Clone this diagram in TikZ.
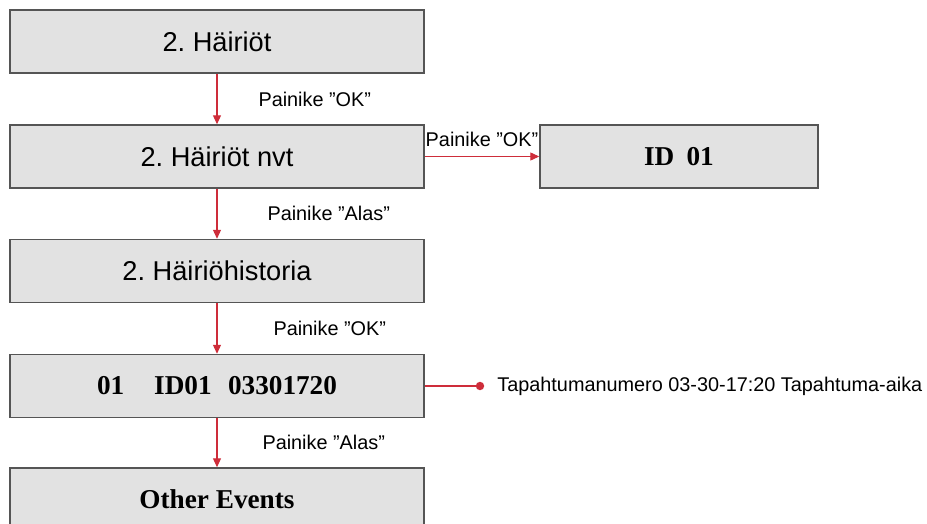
\documentclass[tikz,border=0pt]{standalone}
\usepackage{fontspec}
\setmainfont{Liberation Sans}
\newfontfamily\evserif{Liberation Serif}
\usepackage{xcolor}
\definecolor{evGray} {RGB}{226, 226, 226}
\definecolor{evEdge} {RGB}{ 85,  85,  85}
\definecolor{evRed}  {RGB}{206,  45,  58}
\usepackage{tikz}
\usetikzlibrary{
  arrows.meta,
  positioning,
}
\frenchspacing

\begin{document}
\begin{tikzpicture}[
  x=0.02cm, y=-0.02cm,
  >={Triangle[length=5pt,width=4.5pt]},
  box/.style={draw=evEdge, line width=0.9pt, fill=evGray, inner sep=0pt,
    minimum width=8.28cm, minimum height=1.26cm},
  boxtxt/.style={font=\fontsize{15.5}{18}\selectfont, text depth=-1pt},
  boxser/.style={font=\evserif\bfseries\fontsize{15.5}{18}\selectfont},
  conn/.style={draw=evRed, line width=0.6pt},
  lbl/.style={font=\fontsize{11.3}{13}\selectfont, inner sep=0pt},
]
  \useasboundingbox (0,0) rectangle (927,524);
  \begin{scope}
    \clip (0,0) rectangle (927,524);

    % Menu boxes
    \node[box, boxtxt] (hairiot) at (217,41.5) {2. Häiriöt};
    \node[box, boxtxt] (nyt) at (217,156.5) {2. Häiriöt nvt};
    \node[box, boxser, minimum width=5.56cm] (id) at (679,156.5) {ID\hspace{0.45em}01};
    \node[box, boxtxt] (historia) at (217,271) {2. Häiriöhistoria};
    \node[box, boxser] (event) at (217,386)
      {01\hspace{1.1em}ID01\hspace{0.6em}03301720};
    \node[box, boxser] (other) at (217,499.5) {Other Events};

    % Connectors
    \draw[conn, ->] (hairiot) -- (nyt)
      node[midway, right=0.82cm, lbl] {Painike ”OK”};
    \draw[conn, ->] (nyt) -- (id)
      node[midway, above=0.18cm, lbl] {Painike ”OK”};
    \draw[conn, ->] (nyt) -- (historia)
      node[midway, right=1.0cm, lbl] {Painike ”Alas”};
    \draw[conn, ->] (historia) -- (event)
      node[midway, right=1.12cm, lbl] {Painike ”OK”};
    \draw[conn, ->] (event) -- (other)
      node[midway, right=0.9cm, lbl] {Painike ”Alas”};

    % Event info
    \coordinate (dot) at (480,386);
    \draw[conn] (event) -- (dot);
    \fill[evRed] (dot) circle (2.4pt);
    \node[lbl, anchor=west] (info) at (497,386)
      {Tapahtumanumero 03-30-17:20 Tapahtuma-aika};
  \end{scope}
\end{tikzpicture}
\end{document}
